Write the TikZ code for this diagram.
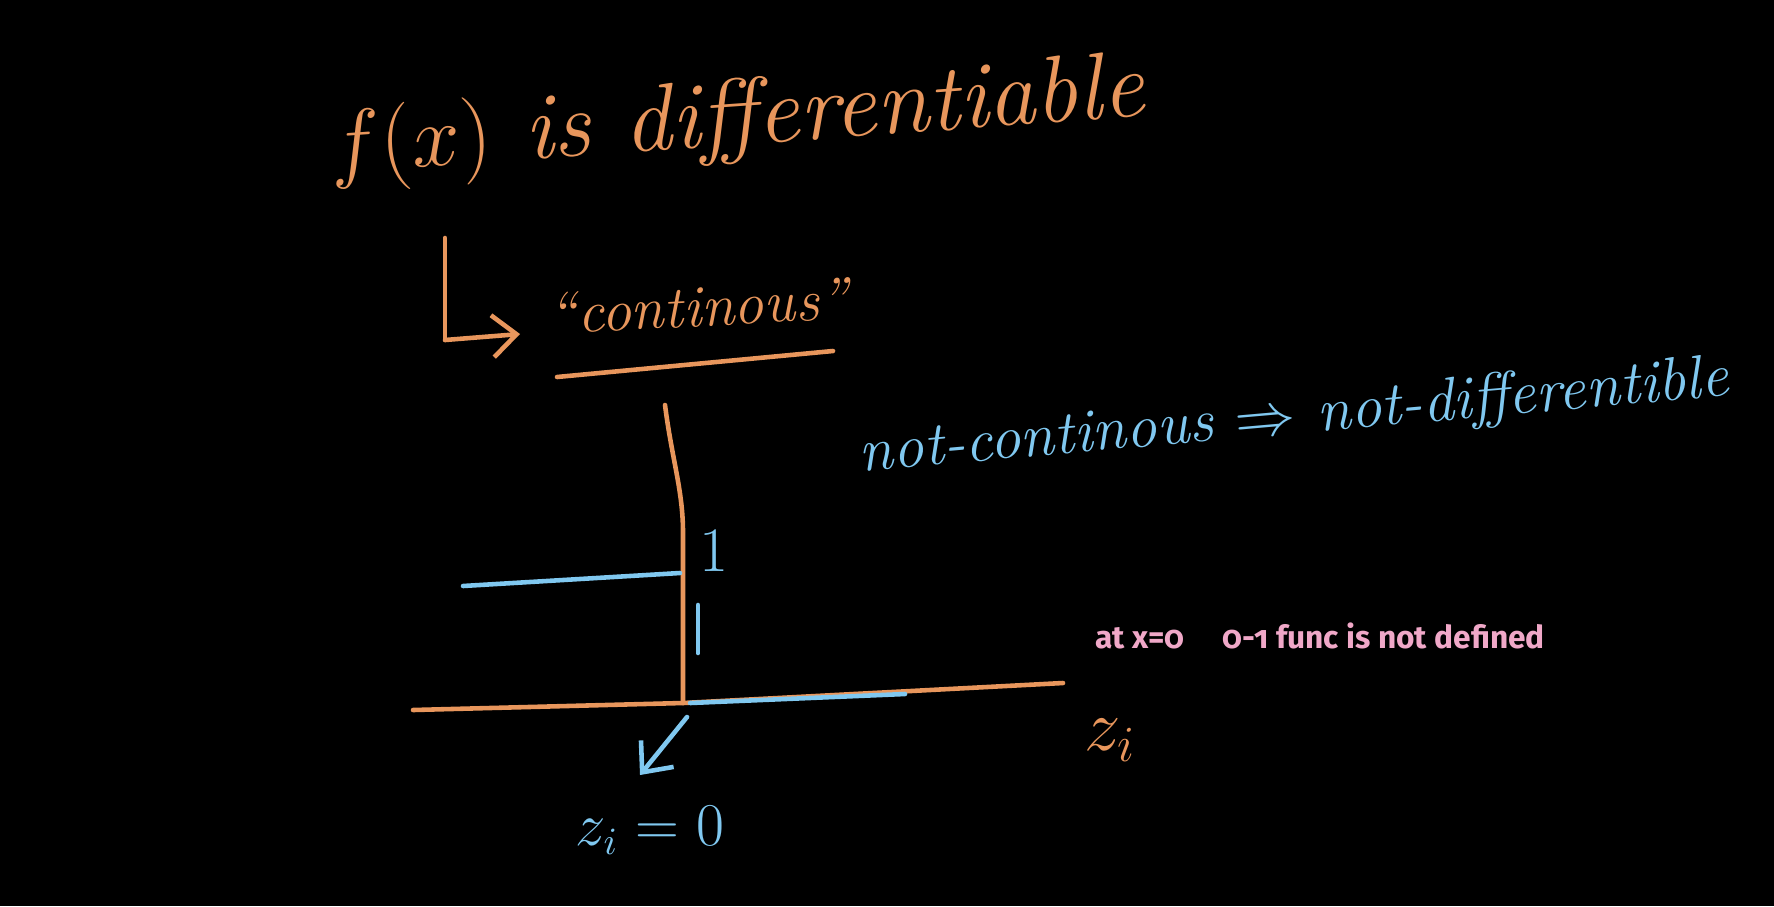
\documentclass[tikz,border=0pt]{standalone}
\usepackage{fontspec}
\newfontfamily\notefont[Numbers=OldStyle]{Fira Sans}
\usetikzlibrary{arrows.meta,positioning}
\definecolor{chalkorange}{RGB}{232,150,92}
\definecolor{chalkblue}{RGB}{128,200,240}
\definecolor{notepink}{RGB}{240,168,200}

\begin{document}
\begin{tikzpicture}[
  x=0.01cm, y=-0.01cm,
  >={Straight Barb[length=2.4mm,width=4.2mm]},
  hand/.style={line width=1.3pt, line cap=round, line join=round},
  ink/.style={hand, draw=chalkorange},
  sky/.style={hand, draw=chalkblue},
  scrawl/.style={inner sep=1pt, font=\itshape},
]
\fill[black] (0,0) rectangle (1774,906);
\useasboundingbox (0,0) rectangle (1774,906);
% Band 1 -- headline
\node[scrawl, text=chalkorange, rotate=4, font=\itshape\fontsize{27}{32}\selectfont]
  (title) at (737,122) {$f(x)$ is differentiable};
% Band 2 -- hook arrow to the quoted word
\node[scrawl, text=chalkorange, rotate=3, font=\itshape\fontsize{17}{20}\selectfont]
  (cont) at (698,306) {``continous''};
\coordinate (hookTop) at (445,238);
\coordinate (hookBend) at (445,340);
\coordinate (hookTip) at (520,334);
\draw[ink] (hookTop) -- (hookBend);
\draw[ink, ->] (hookBend) -- (hookTip);
\coordinate (ulA) at (557,377);
\coordinate (ulB) at (833,351);
\draw[ink] (ulA) -- (ulB);
% Band 3 -- implication
\node[scrawl, text=chalkblue, rotate=5, font=\itshape\fontsize{17.5}{21}\selectfont]
  (impl) at (1294,418) {not-continous $\Rightarrow$ not-differentible};
% Band 4 -- axes
\coordinate (yTop) at (665,405);
\coordinate (yBend) at (683,533);
\coordinate (orig) at (683,703);
\coordinate (xLeft) at (413,710);
\coordinate (xRight) at (1063,683);
\draw[ink] (yTop) .. controls (672,460) and (683,490) .. (yBend) -- (orig);
\draw[ink] (xLeft) -- (orig) -- (xRight);
% step function
\coordinate (stepL) at (463,586);
\coordinate (stepR) at (680,573);
\draw[sky] (stepL) -- (stepR);
\coordinate (zeroR) at (905,694);
\draw[sky] ([xshift=2pt]orig) -- (zeroR);
\coordinate (tickTop) at (698,605);
\coordinate (tickBot) at (698,653);
\draw[sky] (tickTop) -- (tickBot);
\node[scrawl, text=chalkblue, font=\fontsize{18}{22}\selectfont] (one) at (714,551) {1};
% origin pointer
\coordinate (ptTail) at (687,717);
\node[scrawl, text=chalkblue, font=\itshape\fontsize{16}{20}\selectfont] (zlab) at (650,830) {$z_i=0$};
\draw[sky, ->] (ptTail) -- (640,775);
\node[scrawl, text=chalkorange, font=\itshape\fontsize{22}{26}\selectfont] (zax) at (1110,740) {$z_i$};
% note
\node[inner sep=0pt, text=notepink, font=\notefont\bfseries\fontsize{9}{11}\selectfont]
  (note) at (1320,636) {at x=0\hspace{1.2em}0-1 func is not defined};
\end{tikzpicture}
\end{document}
